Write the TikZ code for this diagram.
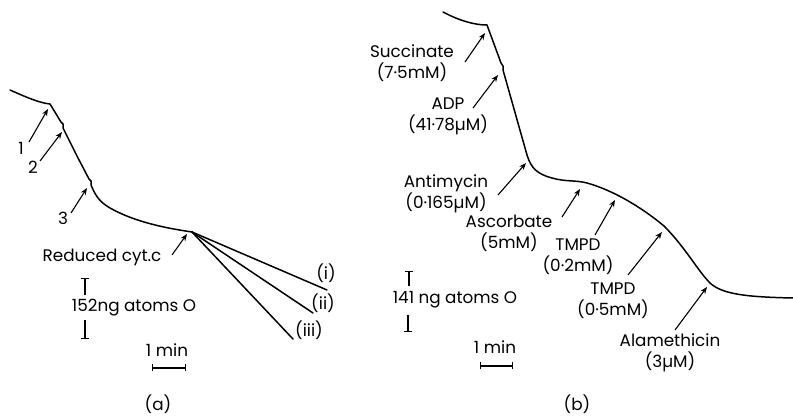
\documentclass[tikz,border=0pt]{standalone}
\usepackage{fontspec}
\setmainfont{Poppins}
\usetikzlibrary{arrows.meta}
\tikzset{
  trace/.style={line width=1.5pt, line join=round, line cap=round},
  addarr/.style={line width=1.1pt, -{Stealth[length=7pt,width=5.5pt]}},
  lbl/.style={inner sep=0pt, align=center, font=\fontsize{16.8}{21}\selectfont},
  barT/.style={line width=1.1pt, {Bar[width=8pt,line width=1.1pt]}-},
  barB/.style={line width=1.1pt, -{Bar[width=8pt,line width=1.1pt]}},
  minbar/.style={line width=1.1pt, {Bar[width=7pt,line width=1.1pt]}-{Bar[width=7pt,line width=1.1pt]}}
}
\begin{document}
\begin{tikzpicture}[x=1pt,y=-1pt]
\useasboundingbox (0,0) rectangle (793,419);
% ---------- panel (a) ----------
\coordinate (a0) at (10,90);
\coordinate (a1) at (50,104);
\coordinate (a2) at (63,127);
\coordinate (a3) at (90,183);
\coordinate (aj) at (192,232);
\coordinate (ai) at (327,290);
\coordinate (aii) at (313,313);
\coordinate (aiii) at (293,339);
\draw[trace] (a0) .. controls (28,98) and (40,103) .. (a1)
  -- (61,122) -- (63,124) -- (63,128) -- (78,158) -- (89,179) -- (91,181) -- (91,185)
  .. controls (96,197) and (100,202) .. (110,208)
  .. controls (135,222) and (165,228) .. (aj);
\draw[trace] (aj) -- (ai);
\draw[trace] (aj) -- (aii);
\draw[trace] (aj) -- (aiii);

\node[lbl] (l1) at (21,148) {1};
\node[lbl] (l2) at (33,167) {2};
\node[lbl] (l3) at (63,218) {3};
\node[lbl] (lcyt) at (102,257) {Reduced cyt.c};
\node[lbl] (li) at (326,273) {(i)};
\node[lbl] (lii) at (323,303) {(ii)};
\node[lbl] (liii) at (309,330) {(iii)};

\coordinate (t1) at (29,142); \coordinate (h1) at (48,109);
\coordinate (t2) at (40,161); \coordinate (h2) at (62,132);
\coordinate (t3) at (71,213); \coordinate (h3) at (87,188);
\coordinate (tc) at (172,255); \coordinate (hc) at (187,234);
\draw[addarr] (t1) -- (h1);
\draw[addarr] (t2) -- (h2);
\draw[addarr] (t3) -- (h3);
\draw[addarr] (tc) -- (hc);

\coordinate (sa1) at (85,278); \coordinate (sa2) at (85,295);
\coordinate (sa3) at (85,320); \coordinate (sa4) at (85,339);
\draw[barT] (sa1) -- (sa2);
\draw[barB] (sa3) -- (sa4);
\node[lbl] (la152) at (134,308) {152ng atoms O};
\node[lbl] (lamin) at (167,350) {1 min};
\coordinate (ma1) at (152,368); \coordinate (ma2) at (186,368);
\draw[minbar] (ma1) -- (ma2);
\node[lbl] (pa) at (158,404) {(a)};

% ---------- panel (b) ----------
\coordinate (b0) at (443,12);
\coordinate (b1) at (487,25);
\coordinate (bj) at (527,155);
\coordinate (bend) at (793,298);
\draw[trace] (b0) .. controls (460,21) and (475,25) .. (b1)
  -- (501,63) -- (503,66) -- (503,70) -- (bj)
  .. controls (531,168) and (537,174) .. (552,178)
  .. controls (566,182) and (576,180) .. (587,183)
  .. controls (612,190) and (640,206) .. (664,226)
  .. controls (685,247) and (698,271) .. (710,283)
  .. controls (722,294) and (745,297) .. (bend);

\node[lbl] (lsuc) at (412,63) {Succinate\\(7·5mM)};
\node[lbl] (ladp) at (448,116) {ADP\\(41·78µM)};
\node[lbl] (lanti) at (446,194) {Antimycin\\(0·165µM)};
\node[lbl] (lasc) at (509,233) {Ascorbate\\(5mM)};
\node[lbl] (ltm1) at (578,257) {TMPD\\(0·2mM)};
\node[lbl] (ltm2) at (613,301) {TMPD\\(0·5mM)};
\node[lbl] (lala) at (670,353) {Alamethicin\\(3µM)};

\coordinate (ts) at (465,62); \coordinate (hs) at (485,33);
\coordinate (td) at (473,108); \coordinate (hd) at (498,75);
\coordinate (tan) at (498,195); \coordinate (han) at (526,163);
\coordinate (tas) at (562,217); \coordinate (has) at (580,189);
\coordinate (tt1) at (595,235); \coordinate (ht1) at (615,200);
\coordinate (tt2) at (628,275); \coordinate (ht2) at (662,232);
\coordinate (tal) at (675,330); \coordinate (hal) at (707,287);
\draw[addarr] (ts) -- (hs);
\draw[addarr] (td) -- (hd);
\draw[addarr] (tan) -- (han);
\draw[addarr] (tas) -- (has);
\draw[addarr] (tt1) -- (ht1);
\draw[addarr] (tt2) -- (ht2);
\draw[addarr] (tal) -- (hal);

\coordinate (sb1) at (409,271); \coordinate (sb2) at (409,286);
\coordinate (sb3) at (408,315); \coordinate (sb4) at (408,332);
\draw[barT] (sb1) -- (sb2);
\draw[barB] (sb3) -- (sb4);
\node[lbl] (lb141) at (455,300) {141 ng atoms O};
\node[lbl] (lbmin) at (495,347) {1 min};
\coordinate (mb1) at (480,366); \coordinate (mb2) at (513,366);
\draw[minbar] (mb1) -- (mb2);
\node[lbl] (pb) at (577,404) {(b)};
\end{tikzpicture}
\end{document}
